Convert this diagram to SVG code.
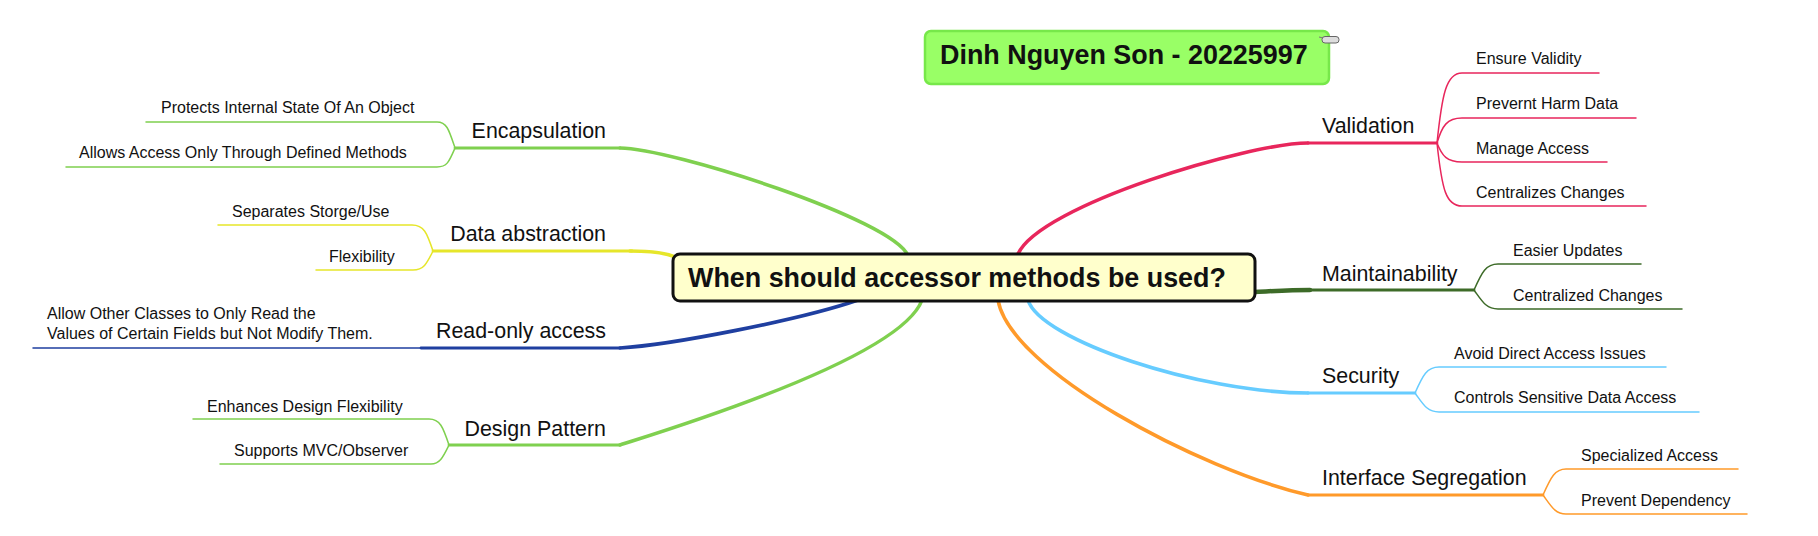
<svg xmlns="http://www.w3.org/2000/svg" width="1818" height="536" viewBox="0 0 1818 536">
<style>
text{font-family:"Liberation Sans",Arial,sans-serif;fill:#111}
.leaf{font-size:16px}
.br{font-size:21.4px}
.big{font-size:26.9px;font-weight:bold}
.c{fill:none;stroke-linecap:round;stroke-linejoin:round}
.thin{stroke-width:1.5}
.main{stroke-width:2.8}
.curve{stroke-width:3.6}
.g{stroke:#7fd04f}.y{stroke:#e6e62a}.b{stroke:#1f3fa0}.r{stroke:#e8265c}
.dg{stroke:#3d6b28}.lb{stroke:#66ccff}.o{stroke:#ff9a2a}
</style>
<rect width="1818" height="536" fill="#fff"/>
<g id="connectors">
<!-- Encapsulation -->
<path class="c curve g" d="M620,148 C670,148 895,220 908,256"/>
<path class="c main g" d="M455,148 H620"/>
<path class="c thin g" d="M455,148 C449,130 447,122 437,122 H146"/>
<path class="c thin g" d="M455,148 C449,162 447,167 437,167 H66"/>
<!-- Data abstraction -->
<path class="c curve y" d="M630,251 C655,251 668,253 677,258"/>
<path class="c main y" d="M433,251 H632"/>
<path class="c thin y" d="M433,251 C427,233 424,225 412,225 H218"/>
<path class="c thin y" d="M433,251 C427,263 424,270 413,270 H316"/>
<!-- Read-only access -->
<path class="c curve b" d="M620,348 C670,345 800,320 858,300"/>
<path class="c main b" d="M421,348 H620"/>
<path class="c thin b" d="M33,348 H421"/>
<!-- Design Pattern -->
<path class="c curve g" d="M620,445 C660,432 900,360 922,300"/>
<path class="c main g" d="M449,445 H620"/>
<path class="c thin g" d="M449,445 C443,427 440,419 429,419 H193"/>
<path class="c thin g" d="M449,445 C443,457 440,464 431,464 H220"/>
<!-- Validation -->
<path class="c curve r" d="M1308,143 C1250,143 1040,205 1018,254"/>
<path class="c main r" d="M1308,143 H1437"/>
<path class="c thin r" d="M1437,143 C1442,95 1446,73 1462,73 H1599"/>
<path class="c thin r" d="M1437,143 C1442,126 1447,118 1462,118 H1636"/>
<path class="c thin r" d="M1437,143 C1442,156 1447,162 1462,162 H1607"/>
<path class="c thin r" d="M1437,143 C1442,190 1446,206 1462,206 H1646"/>
<!-- Maintainability -->
<path class="c" stroke="#3d6b28" stroke-width="4.5" d="M1254,292 C1275,291 1290,290 1310,290"/>
<path class="c main dg" d="M1308,290 H1474"/>
<path class="c thin dg" d="M1474,290 C1482,272 1486,264 1498,264 H1641"/>
<path class="c thin dg" d="M1474,290 C1482,301 1486,309 1498,309 H1682"/>
<!-- Security -->
<path class="c curve lb" d="M1028,300 C1040,340 1200,393 1308,393"/>
<path class="c main lb" d="M1308,393 H1415"/>
<path class="c thin lb" d="M1415,393 C1423,375 1427,367 1439,367 H1666"/>
<path class="c thin lb" d="M1415,393 C1423,404 1427,412 1439,412 H1699"/>
<!-- Interface Segregation -->
<path class="c curve o" d="M998,300 C1010,370 1200,470 1308,495"/>
<path class="c main o" d="M1308,495 H1543"/>
<path class="c thin o" d="M1543,495 C1551,477 1555,469 1566,469 H1738"/>
<path class="c thin o" d="M1543,495 C1551,506 1555,514 1566,514 H1747"/>
</g>
<g id="title">
<rect x="925" y="31" width="404" height="53" rx="6" fill="#99ff66" stroke="#77e84a" stroke-width="2.5"/>
<text class="big" x="940" y="64">Dinh Nguyen Son - 20225997</text>
<path d="M1319,37 L1323,38" stroke="#777" stroke-width="1" fill="none"/>
<rect x="1322" y="36.5" width="17" height="6.5" rx="3" fill="#dddddd" stroke="#666" stroke-width="1"/>
</g>
<g id="central">
<rect x="673" y="254" width="582" height="47" rx="7" fill="#ffffcc" stroke="#111" stroke-width="3"/>
<text class="big" x="688" y="287">When should accessor methods be used?</text>
</g>
<g id="encapsulation">
<text class="br" x="606" y="138" text-anchor="end">Encapsulation</text>
<text class="leaf" x="161" y="113">Protects Internal State Of An Object</text>
<text class="leaf" x="79" y="158">Allows Access Only Through Defined Methods</text>
</g>
<g id="data-abstraction">
<text class="br" x="606" y="241" text-anchor="end">Data abstraction</text>
<text class="leaf" x="232" y="217">Separates Storge/Use</text>
<text class="leaf" x="329" y="262">Flexibility</text>
</g>
<g id="read-only">
<text class="br" x="606" y="338" text-anchor="end">Read-only access</text>
<text class="leaf" x="47" y="319">Allow Other Classes to Only Read the</text>
<text class="leaf" x="47" y="339">Values of Certain Fields but Not Modify Them.</text>
</g>
<g id="design-pattern">
<text class="br" x="606" y="436" text-anchor="end">Design Pattern</text>
<text class="leaf" x="207" y="412">Enhances Design Flexibility</text>
<text class="leaf" x="234" y="456">Supports MVC/Observer</text>
</g>
<g id="validation">
<text class="br" x="1322" y="133">Validation</text>
<text class="leaf" x="1476" y="64">Ensure Validity</text>
<text class="leaf" x="1476" y="109">Prevernt Harm Data</text>
<text class="leaf" x="1476" y="154">Manage Access</text>
<text class="leaf" x="1476" y="198">Centralizes Changes</text>
</g>
<g id="maintainability">
<text class="br" x="1322" y="281">Maintainability</text>
<text class="leaf" x="1513" y="256">Easier Updates</text>
<text class="leaf" x="1513" y="301">Centralized Changes</text>
</g>
<g id="security">
<text class="br" x="1322" y="383">Security</text>
<text class="leaf" x="1454" y="359">Avoid Direct Access Issues</text>
<text class="leaf" x="1454" y="403">Controls Sensitive Data Access</text>
</g>
<g id="interface-segregation">
<text class="br" x="1322" y="485">Interface Segregation</text>
<text class="leaf" x="1581" y="461">Specialized Access</text>
<text class="leaf" x="1581" y="506">Prevent Dependency</text>
</g>
</svg>
